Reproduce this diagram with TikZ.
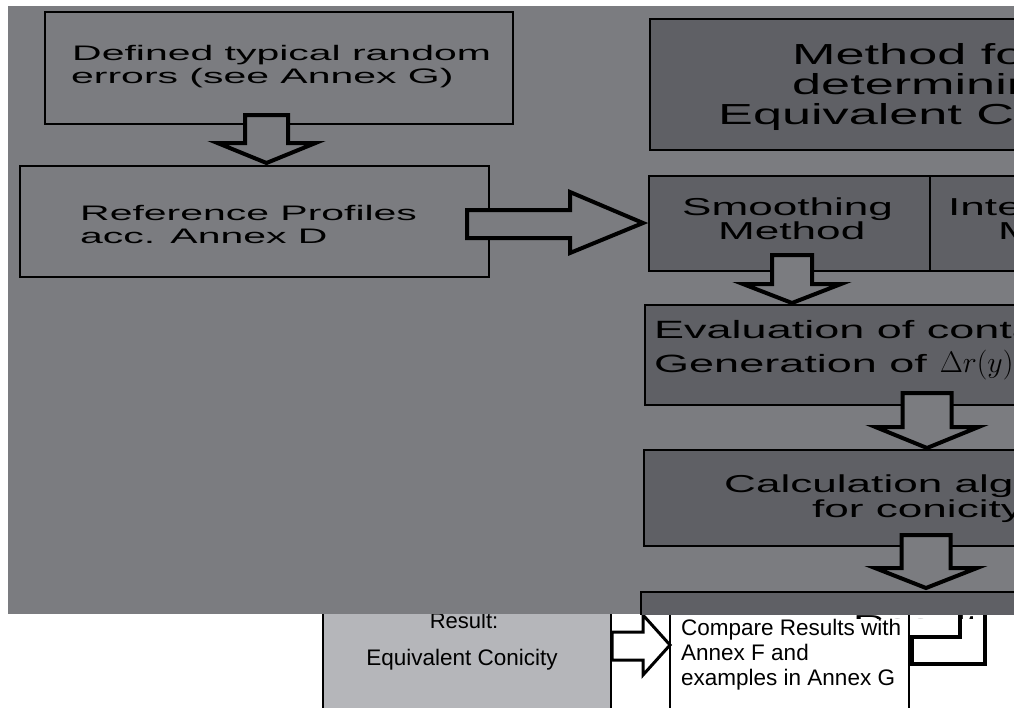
\documentclass[tikz,border=0pt]{standalone}
\usepackage{fontspec}
\setmainfont{Liberation Sans}
\newfontfamily\leftfont[FakeStretch=1.95]{Liberation Sans}
\newfontfamily\rightfont[FakeStretch=1.8]{Liberation Sans}
\usetikzlibrary{positioning}
\definecolor{panelgray}{RGB}{123,124,128}
\definecolor{boxdark}{RGB}{95,96,101}
\definecolor{resultgray}{RGB}{181,182,186}
\tikzset{
  plainbox/.style={line width=2.5pt},
  darkbox/.style={line width=2.5pt, fill=boxdark},
  blockarrow/.style={line width=4pt, fill=panelgray, line join=miter},
  lefttext/.style={inner sep=0pt, anchor=base west, font=\leftfont\fontsize{21}{23}\selectfont},
  titletext/.style={inner sep=0pt, anchor=base west, font=\rightfont\fontsize{29}{30}\selectfont},
  righttext/.style={inner sep=0pt, anchor=base west, font=\rightfont\fontsize{24.5}{26}\selectfont},
  sheettext/.style={inner sep=0pt, font=\fontsize{22.5}{25}\selectfont}
}
\def\blockdown(#1:#2:#3:#4:#5:#6){\draw[blockarrow] ({#1-#2},#3) -- ({#1-#2},#4) -- ({#1-#5},#4) -- (#1,#6) -- ({#1+#5},#4) -- ({#1+#2},#4) -- ({#1+#2},#3) -- cycle;}

\begin{document}
\begin{tikzpicture}[x=1pt,y=-1pt]
			%%%%% START %%%%%
			\useasboundingbox (0,0) rectangle (1014,707);
			\clip (0,0) rectangle (1014,707);
			\fill[white] (0,0) rectangle (1014,707);
			
			% lower sheet
			\draw[line width=1.5pt, fill=resultgray] (323,580) rectangle (611,720);
			\draw[line width=1.5pt, fill=white] (670,580) rectangle (909,720);
			\node[sheettext, anchor=base, font=\fontsize{22}{25}\selectfont] (resultlabel) at (464,628.5) {Result:};
			\node[sheettext, anchor=base, font=\fontsize{22.5}{25}\selectfont] (conicity) at (462,665) {Equivalent Conicity};
			\node[sheettext, anchor=base west] (compare1) at (681,635) {Compare Results with};
			\node[sheettext, anchor=base west] (compare2) at (681,660) {Annex F and};
			\node[sheettext, anchor=base west] (compare3) at (681,685) {examples in Annex G};
			\draw[line width=3pt, fill=white, line join=miter] (612,632) -- (643,632) -- (643,615) -- (670,645) -- (643,675) -- (643,660) -- (612,660) -- cycle;
			\draw[line width=4pt, line join=miter] (960,612) -- (960,637) -- (912,637) -- (912,664) -- (985,664) -- (985,612);
			\begin{scope}
				\clip (840,614) rectangle (1000,618.3);
				\node[righttext] (resultcut) at (853,632) {Result};
			\end{scope}
			
			% upper panel
			\fill[panelgray] (8,6) rectangle (1014,614);
			\begin{scope}
				\clip (8,6) rectangle (1014,614);
				
				\draw[plainbox] (45,12) rectangle (513,124);
				\draw[plainbox] (20,166) rectangle (489,277);
				\draw[darkbox] (650,19) rectangle (1030,150);
				\draw[darkbox] (649,176) rectangle (930,271);
				\draw[darkbox] (930,176) rectangle (1030,271);
				\draw[darkbox] (645,305) rectangle (1030,405);
				\draw[darkbox] (644,450) rectangle (1030,546);
				\draw[darkbox] (641,592) rectangle (1030,640);
				
				\blockdown(266.5:21.5:115:143:49:163)
				\blockdown(792:20:255:284:49:303)
				\blockdown(927:24.5:393:427:51.5:448)
				\blockdown(926:24.5:535:568:51:588)
				\draw[blockarrow] (467,210) -- (570,210) -- (570,192) -- (643,223) -- (570,253) -- (570,238) -- (467,238) -- cycle;
				
				\node[lefttext] (errors1) at (72,60) {Defined typical random};
				\node[lefttext] (errors2) at (71,83) {errors (see Annex G)};
				\node[lefttext] (profiles1) at (80,220) {Reference Profiles};
				\node[lefttext] (profiles2) at (80,243) {acc. Annex D};
				
				\node[titletext] (method1) at (792,64) {Method for};
				\node[titletext] (method2) at (792,94) {determining};
				\node[titletext] (method3) at (718,124) {Equivalent Conicity};
				
				\node[righttext] (smooth1) at (682,215) {Smoothing};
				\node[righttext] (smooth2) at (718,239) {Method};
				\node[righttext] (interp1) at (948,215) {Interpolation};
				\node[righttext] (interp2) at (998,239) {Method};
				
				\node[righttext, font=\rightfont\fontsize{25}{26}\selectfont] (eval1) at (654,338) {Evaluation of contact geometry};
				\node[righttext, font=\rightfont\fontsize{25}{26}\selectfont] (eval2) at (654,372) {Generation of\hspace*{13pt}\scalebox{1.2}{$\Delta r(y)$}};
				\node[righttext] (calc1) at (724,492) {Calculation algorithm};
				\node[righttext] (calc2) at (812,517) {for conicity};
			\end{scope}
			%%%%% END %%%%%
\end{tikzpicture}
\end{document}
